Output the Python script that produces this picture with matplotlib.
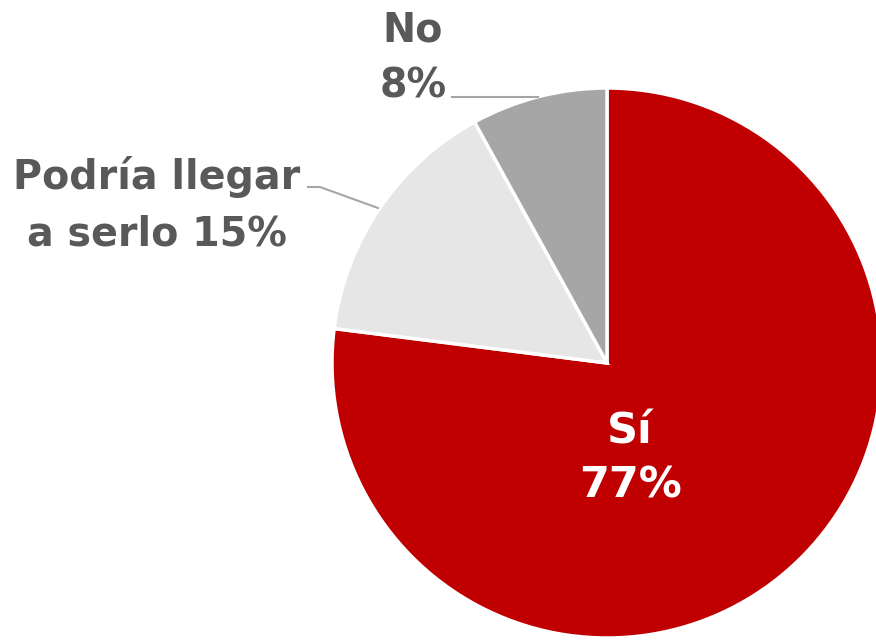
import matplotlib
matplotlib.use("Agg")
import matplotlib.pyplot as plt

categories = ["Sí", "Podría llegar\na serlo", "No"]
values = [77, 15, 8]
colors = ["#C00000", "#E6E6E6", "#A6A6A6"]

W, H = 876, 640
fig = plt.figure(figsize=(W / 100, H / 100), dpi=100)
ax = fig.add_axes([0, 0, 1, 1])

cx, cy, r = 607, H - 363, 275
ax.pie(values, colors=colors, startangle=90, counterclock=False,
       center=(cx, cy), radius=r,
       wedgeprops=dict(edgecolor="white", linewidth=2.5), frame=True)
ax.set_xlim(0, W)
ax.set_ylim(0, H)
ax.set_aspect("equal")
ax.axis("off")

fam = ["DejaVu Sans"]
tc = "#595959"
fs = 28.5

def line(x, y, s, color=tc, size=fs):
    ax.text(x, H - y, s, ha="center", va="baseline", fontsize=size,
            fontweight="bold", color=color, family=fam)

# Sí
line(630, 444, categories[0], color="white", size=31)
line(630, 498, f"{values[0]}%", color="white", size=31)
# No
line(413, 42, categories[2])
line(413, 97, f"{values[2]}%")
# Podría llegar
l1, l2 = categories[1].split("\n")
line(157, 189, l1)
line(157, 245, f"{l2} {values[1]}%")

# leader lines
ax.plot([452, 538], [H - 97, H - 97], color="#A6A6A6", lw=1.5)
ax.plot([308, 320, 378], [H - 187, H - 187, H - 208], color="#A6A6A6", lw=1.5)

fig.savefig("out.png", dpi=100)
